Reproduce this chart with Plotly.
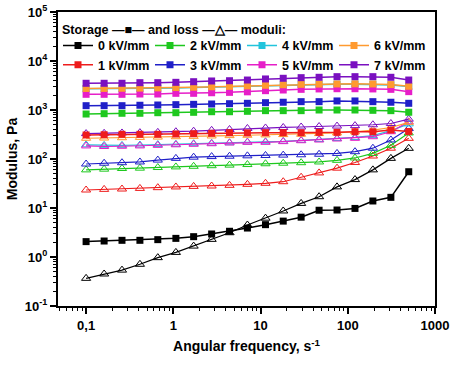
import plotly.graph_objects as go

freq = [0.1, 0.161, 0.258, 0.414, 0.664, 1.07, 1.71, 2.75, 4.41, 7.07,
        11.4, 18.2, 29.2, 46.9, 75.3, 121, 194, 312, 500]

fields = ["0 kV/mm", "1 kV/mm", "2 kV/mm", "3 kV/mm",
          "4 kV/mm", "5 kV/mm", "6 kV/mm", "7 kV/mm"]
colors = ["#000000", "#ee1c1c", "#1ec81e", "#1f1fc8",
          "#22c4dc", "#e61ec8", "#ff9a30", "#7a10c0"]

storage_0 = [2.06, 2.12, 2.19, 2.19, 2.26, 2.4, 2.6, 2.95, 3.35, 3.9, 4.57, 5.4, 6.5, 9.0, 9.1, 9.8, 13.9, 16.5, 55]
storage_1 = [309, 313, 319, 319, 319, 324, 328, 334, 344, 340, 344, 344, 344, 350, 350, 360, 360, 390, 365]
storage_2 = [828, 841, 857, 857, 881, 881, 897, 923, 923, 940, 970, 970, 970, 1000, 1000, 1000, 985, 970, 900]
storage_3 = [1225, 1225, 1225, 1250, 1265, 1285, 1305, 1325, 1345, 1370, 1410, 1440, 1480, 1480, 1530, 1530, 1480, 1440, 1370]
storage_4 = [2700, 2710, 2730, 2750, 2780, 2820, 2870, 2930, 2990, 3050, 3150, 3230, 3290, 3330, 3350, 3370, 3350, 3250, 3000]
storage_5 = [2090, 2090, 2090, 2120, 2120, 2190, 2190, 2250, 2290, 2350, 2480, 2560, 2640, 2690, 2720, 2720, 2690, 2640, 2370]
storage_6 = [2750, 2760, 2780, 2800, 2830, 2870, 2920, 2980, 3040, 3100, 3200, 3280, 3340, 3380, 3400, 3420, 3400, 3300, 3050]
storage_7 = [3510, 3510, 3510, 3610, 3610, 3670, 3780, 3910, 3960, 4090, 4300, 4440, 4570, 4650, 4790, 4790, 4790, 4650, 4090]

loss_0 = [0.367, 0.45, 0.54, 0.71, 0.97, 1.24, 1.67, 2.29, 3.13, 4.5, 6.2, 8.7, 12.4, 17, 27, 38, 60, 103, 165]
loss_1 = [23.3, 24, 24.4, 25.1, 26, 26.9, 27.6, 28.1, 29, 30.4, 31.9, 34.4, 42.5, 52, 65, 85, 115, 166, 264]
loss_2 = [60, 62, 64, 65, 67, 69, 71, 73, 75, 77, 80, 82, 84, 87, 94, 105, 130, 190, 340]
loss_3 = [79, 82, 84, 87, 95, 103, 109, 112, 114, 116, 118, 120, 122, 125, 130, 141, 166, 245, 420]
loss_4 = [195, 190, 190, 193, 197, 200, 205, 210, 215, 222, 225, 230, 240, 250, 262, 275, 300, 380, 520]
loss_5 = [185, 180, 182, 185, 190, 195, 200, 205, 212, 219, 219, 226, 236, 244, 256, 264, 285, 360, 575]
loss_6 = [265, 268, 272, 276, 280, 285, 290, 295, 300, 305, 310, 315, 320, 330, 340, 360, 390, 440, 560]
loss_7 = [330, 335, 340, 345, 350, 360, 370, 385, 400, 420, 430, 440, 450, 460, 470, 480, 500, 530, 650]

storage = [storage_0, storage_1, storage_2, storage_3, storage_4, storage_5, storage_6, storage_7]
loss = [loss_0, loss_1, loss_2, loss_3, loss_4, loss_5, loss_6, loss_7]
legend_rank = [1, 5, 2, 6, 3, 7, 4, 8]
legend_heading = "<b>Storage —■— and loss —△— moduli:</b>"

FONT = "Arial, Liberation Sans, sans-serif"
fig = go.Figure()

for i in range(8):
    fig.add_trace(go.Scatter(
        x=freq, y=loss[i], mode="lines+markers", showlegend=False,
        line=dict(color=colors[i], width=1.2),
        marker=dict(symbol="triangle-up-open", size=8, color=colors[i], line=dict(width=1)),
    ))

for i in range(8):
    fig.add_trace(go.Scatter(
        x=freq, y=storage[i], mode="lines+markers", name=fields[i],
        legendrank=legend_rank[i],
        line=dict(color=colors[i], width=1.5),
        marker=dict(symbol="square", size=7, color=colors[i]),
    ))

minor_x = [m * 10 ** e for e in range(-2, 3) for m in range(2, 10)]
minor_y = [m * 10 ** e for e in range(-1, 5) for m in range(2, 10)]
yt = [0.1, 1, 10, 100, 1000, 10000, 100000]
yl = ["<b>10<sup>-1</sup></b>", "<b>10<sup>0</sup></b>", "<b>10<sup>1</sup></b>", "<b>10<sup>2</sup></b>",
      "<b>10<sup>3</sup></b>", "<b>10<sup>4</sup></b>", "<b>10<sup>5</sup></b>"]
xt = [0.1, 1, 10, 100, 1000]
xl = ["<b>0,1</b>", "<b>1</b>", "<b>10</b>", "<b>100</b>", "<b>1000</b>"]

fig.add_annotation(
    xref="paper", yref="paper", x=0.005, y=0.94, xanchor="left", yanchor="middle",
    text=legend_heading, showarrow=False,
    font=dict(family=FONT, size=12.5, color="black"),
)

fig.update_layout(
    width=454, height=369,
    margin=dict(l=58, r=19, t=12, b=63),
    paper_bgcolor="white", plot_bgcolor="white",
    font=dict(family=FONT, size=13, color="black"),
    showlegend=True,
    legend=dict(
        orientation="h", x=0.0, y=0.936, xanchor="left", yanchor="top",
        bgcolor="rgba(0,0,0,0)", entrywidth=47, entrywidthmode="pixels",
        font=dict(family=FONT, size=12.5, color="black", weight="bold"),
        tracegroupgap=0, itemwidth=30,
    ),
    xaxis=dict(
        type="log", range=[-1.322, 3], showgrid=False, zeroline=False, automargin=False,
        showline=True, linecolor="black", linewidth=2, mirror=True,
        ticks="outside", ticklen=6, tickwidth=1.5, tickcolor="black",
        tickmode="array", tickvals=xt, ticktext=xl, ticklabeloverflow="allow",
        tickfont=dict(family=FONT, size=13),
        minor=dict(tickmode="array", tickvals=minor_x, ticks="outside", ticklen=3, tickcolor="black", tickwidth=1),
        title=dict(text="<b>Angular frequency, s<sup>-1</sup></b>", font=dict(family=FONT, size=14), standoff=10),
    ),
    yaxis=dict(
        type="log", range=[-1, 5], showgrid=False, zeroline=False, automargin=False,
        showline=True, linecolor="black", linewidth=2, mirror=True,
        ticks="outside", ticklen=6, tickwidth=1.5, tickcolor="black",
        tickmode="array", tickvals=yt, ticktext=yl, ticklabeloverflow="allow",
        tickfont=dict(family=FONT, size=13),
        minor=dict(tickmode="array", tickvals=minor_y, ticks="outside", ticklen=3, tickcolor="black", tickwidth=1),
        title=dict(text="<b>Modulus, Pa</b>", font=dict(family=FONT, size=14), standoff=4),
    ),
)

fig.write_html("out.html", config={"displayModeBar": False},
               post_script="document.body.style.margin='0';document.body.style.overflow='hidden';")
